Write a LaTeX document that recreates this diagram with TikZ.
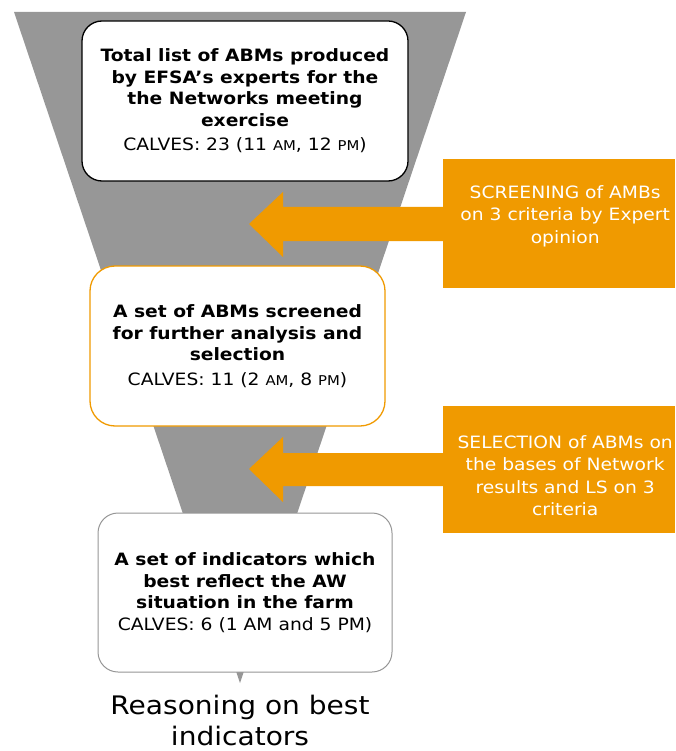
\documentclass[tikz,border=0pt]{standalone}
\usepackage{fontspec}
\setmainfont{DejaVu Sans}[FakeStretch=1.1]
\definecolor{funnelgray}{RGB}{151,151,151}
\definecolor{efsaorange}{RGB}{240,154,0}
\definecolor{boxgray}{RGB}{150,150,150}
\newcommand\smc[1]{{\fontsize{13.5}{13.5}\selectfont #1}}
\tikzset{
  x=1pt, y=-1pt,
  stage/.style={draw, fill=white, rounded corners=20pt, line width=1.3pt,
    align=center, inner sep=0pt, font=\fontsize{17}{21.5}\selectfont},
  orbox/.style={fill=efsaorange, inner sep=0pt},
  ortext/.style={text=white, align=center, font=\fontsize{17}{22.5}\selectfont},
  blockarrow/.style={fill=efsaorange},
}
\begin{document}
\begin{tikzpicture}
\useasboundingbox (0,0) rectangle (675,751);
% funnel
\fill[funnelgray] (14,12) -- (466,12) -- (240,683) -- cycle;
% stages
\node[stage, minimum width=326pt, minimum height=160pt] (s1) at (245,101)
  {\textbf{Total list of ABMs produced}\\\textbf{by EFSA’s experts for the}\\\textbf{the Networks meeting}\\\textbf{exercise}\\[3pt]
   CALVES: 23 (11 \smc{AM}, 12 \smc{PM})};
\node[stage, draw=efsaorange, minimum width=295pt, minimum height=160pt, rounded corners=25pt] (s2) at (237.5,346)
  {\textbf{A set of ABMs screened}\\\textbf{for further analysis and}\\\textbf{selection}\\[3pt]
   CALVES: 11 (2 \smc{AM}, 8 \smc{PM})};
\node[stage, draw=boxgray, line width=1pt, minimum width=294pt, minimum height=159pt] (s3) at (245,592.5)
  {\textbf{A set of indicators which}\\\textbf{best reflect the AW}\\\textbf{situation in the farm}\\
   CALVES: 6 (1 AM and 5 PM)};
\node[align=center, inner sep=0pt, font=\fontsize{25.5}{31}\selectfont] (res) at (240,720.5) {Reasoning on best\\indicators};
% orange boxes
\node[orbox, minimum width=232pt, minimum height=129pt, anchor=north west] (o1) at (443,159) {};
\node[ortext, anchor=north] (t1) at ([xshift=6pt,yshift=-23pt]o1.north) {SCREENING of AMBs\\on 3 criteria by Expert\\opinion};
\node[orbox, minimum width=232pt, minimum height=127pt, anchor=north west] (o2) at (443,406) {};
\node[ortext, anchor=north] (t2) at ([xshift=6pt,yshift=-26pt]o2.north) {SELECTION of ABMs on\\the bases of Network\\results and LS on 3\\criteria};
% block arrows
\fill[blockarrow] (o1.west |- 0,207) -- (283,207) -- (283,192) -- (249,224) -- (283,257) -- (283,241) -- (o1.west |- 0,241) -- cycle;
\fill[blockarrow] (o2.west |- 0,453) -- (283,453) -- (283,437) -- (249,469) -- (283,502) -- (283,486) -- (o2.west |- 0,486) -- cycle;
\end{tikzpicture}
\end{document}
